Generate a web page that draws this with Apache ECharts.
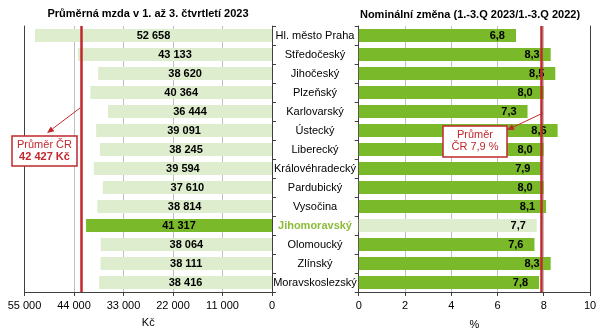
<!DOCTYPE html>
<html><head><meta charset="utf-8">
<script src="https://cdn.jsdelivr.net/npm/echarts@6/dist/echarts.min.js"></script>
<style>html,body{margin:0;padding:0;background:#fff}#c{width:608px;height:336px}</style>
</head><body><div id="c"></div>
<script>
var regions = ['Hl. město Praha','Středočeský','Jihočeský','Plzeňský','Karlovarský','Ústecký','Liberecký','Královéhradecký','Pardubický','Vysočina','Jihomoravský','Olomoucký','Zlínský','Moravskoslezský'];
var wages = [52658,43133,38620,40364,36444,39091,38245,39594,37610,38814,41317,38064,38111,38416];
var changes = [6.8,8.3,8.5,8.0,7.3,8.6,8.0,7.9,8.0,8.1,7.7,7.6,8.3,7.8];
var avgWage = 42427;
var avgChange = 7.9;
var highlight = 'Jihomoravský';

var FONT = 'Liberation Sans, Arial, sans-serif';
var RED = '#c0282d', DARK = '#7ab929', LIGHT = '#deedcd', AX = '#404040', GRID = '#bfbfbf';

function fmtK(v){ return String(Math.round(v)).replace(/\B(?=(\d{3})+(?!\d))/g,' '); }
function fmtC(v){ return v.toFixed(1).replace('.',','); }

var chart = echarts.init(document.getElementById('c'));

function arrow(x1,y1,x2,y2){
  var a = Math.atan2(y2-y1,x2-x1), L=7, W=3;
  var bx = x2 - L*Math.cos(a), by = y2 - L*Math.sin(a);
  var px = -Math.sin(a)*W, py = Math.cos(a)*W;
  return [
    {type:'line', shape:{x1:x1,y1:y1,x2:bx,y2:by}, style:{stroke:RED,lineWidth:1}, z:100},
    {type:'polygon', shape:{points:[[x2,y2],[bx+px,by+py],[bx-px,by-py]]}, style:{fill:RED}, z:100}
  ];
}

var option = {
  animation:false,
  textStyle:{fontFamily:FONT},
  title:[
    {text:'Průměrná mzda v 1. až 3. čtvrtletí 2023', left:143, top:3, textAlign:'center',
     textStyle:{fontFamily:FONT,fontSize:11,fontWeight:'bold',color:'#000'}},
    {text:'Nominální změna (1.-3.Q 2023/1.-3.Q 2022)', left:465, top:4, textAlign:'center',
     textStyle:{fontFamily:FONT,fontSize:11,fontWeight:'bold',color:'#000'}}
  ],
  grid:[
    {left:24.5, right:336, top:26, bottom:44},
    {left:358.7, right:18, top:26, bottom:44}
  ],
  xAxis:[
    {gridIndex:0, type:'value', min:0, max:55000, interval:11000, inverse:true,
     name:'Kč', nameLocation:'middle', nameGap:25, nameTextStyle:{fontFamily:FONT,fontSize:11,color:'#000'},
     axisLine:{show:true,lineStyle:{color:AX}}, axisTick:{show:true,length:4,lineStyle:{color:AX}},
     axisLabel:{fontFamily:FONT,fontSize:11,color:'#000',margin:8,formatter:function(v){return fmtK(v);}},
     splitLine:{show:true,lineStyle:{color:GRID}}},
    {gridIndex:1, type:'value', min:0, max:10, interval:2,
     name:'%', nameLocation:'middle', nameGap:27, nameTextStyle:{fontFamily:FONT,fontSize:11,color:'#000'},
     axisLine:{show:true,lineStyle:{color:AX}}, axisTick:{show:true,length:4,lineStyle:{color:AX}},
     axisLabel:{fontFamily:FONT,fontSize:11,color:'#000',margin:8},
     splitLine:{show:true,lineStyle:{color:GRID}}}
  ],
  yAxis:[
    {gridIndex:0, type:'category', data:regions, inverse:true, position:'right',
     axisLine:{show:true,lineStyle:{color:AX}}, axisTick:{show:true,length:4,inside:false,lineStyle:{color:AX}},
     axisLabel:{margin:43, align:'center', fontFamily:FONT, fontSize:11, color:'#000',
       formatter:function(v){ return v===highlight ? '{h|'+v+'}' : v; },
       rich:{h:{color:'#8dbb3a',fontWeight:'bold',fontFamily:FONT,fontSize:11}}}},
    {gridIndex:0, type:'category', data:regions, inverse:true, position:'left',
     axisLine:{show:true,lineStyle:{color:AX}}, axisTick:{show:false}, axisLabel:{show:false}},
    {gridIndex:1, type:'category', data:regions, inverse:true, position:'left',
     axisLine:{show:true,lineStyle:{color:AX}}, axisTick:{show:true,length:4,lineStyle:{color:AX}}, axisLabel:{show:false}},
    {gridIndex:1, type:'category', data:regions, inverse:true, position:'right',
     axisLine:{show:true,lineStyle:{color:AX}}, axisTick:{show:false}, axisLabel:{show:false}}
  ],
  series:[
    {type:'bar', xAxisIndex:0, yAxisIndex:0, barWidth:13,
     data:wages.map(function(v,i){ return {value:v, itemStyle:{color: regions[i]===highlight?DARK:LIGHT}}; }),
     label:{show:true, position:'inside', fontFamily:FONT, fontSize:11, fontWeight:'bold', color:'#000',
       formatter:function(p){return fmtK(p.value);}},
     markLine:{silent:true, symbol:['none','none'], label:{show:false},
       lineStyle:{color:RED,width:2.5,type:'solid'}, data:[{xAxis:avgWage}]}},
    {type:'bar', xAxisIndex:1, yAxisIndex:2, barWidth:13,
     data:changes.map(function(v,i){ return {value:v, itemStyle:{color: regions[i]===highlight?LIGHT:DARK}}; }),
     label:{show:true, position:'insideRight', distance:8, offset:[-3,0], fontFamily:FONT, fontSize:11, fontWeight:'bold', color:'#000',
       formatter:function(p){return fmtC(p.value);}},
     markLine:{silent:true, symbol:['none','none'], label:{show:false},
       lineStyle:{color:RED,width:2.5,type:'solid'}, data:[{xAxis:avgChange}]}}
  ],
  graphic: [].concat(
    arrow(80,108,47,133),
    arrow(543,113,507,130),
    [
      {type:'rect', shape:{x:12,y:136,width:65,height:30}, style:{fill:'#fff',stroke:RED,lineWidth:1.5}, z:101},
      {type:'text', x:44.5, y:145, style:{text:'Průměr ČR', fill:RED, font:'11px '+FONT, textAlign:'center', textVerticalAlign:'middle'}, z:102},
      {type:'text', x:44.5, y:157, style:{text:'42 427 Kč', fill:RED, font:'bold 11px '+FONT, textAlign:'center', textVerticalAlign:'middle'}, z:102},
      {type:'rect', shape:{x:443,y:126,width:64,height:31}, style:{fill:'#fff',stroke:RED,lineWidth:1.5}, z:101},
      {type:'text', x:475, y:135, style:{text:'Průměr', fill:RED, font:'11px '+FONT, textAlign:'center', textVerticalAlign:'middle'}, z:102},
      {type:'text', x:475, y:147, style:{text:'ČR 7,9 %', fill:RED, font:'11px '+FONT, textAlign:'center', textVerticalAlign:'middle'}, z:102}
    ]
  )
};
chart.setOption(option);
</script></body></html>
